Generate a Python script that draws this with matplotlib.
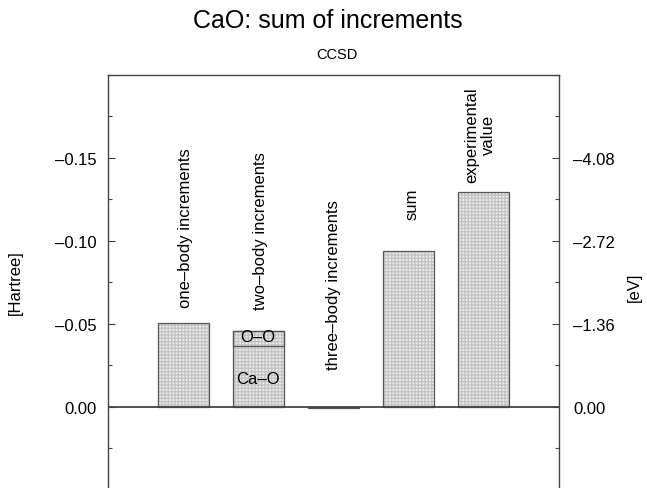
import matplotlib
matplotlib.use('Agg')
import matplotlib.pyplot as plt
from matplotlib.ticker import FixedLocator, MultipleLocator

plt.rcParams['font.family'] = ['Liberation Sans', 'DejaVu Sans']

# data (Hartree)
positions = [1, 2, 3, 4, 5]
bar_values = [-0.0504, -0.0456, 0.001, -0.0936, -0.1293]
bar_labels = ['one\u2013body increments', 'two\u2013body increments',
              'three\u2013body increments', 'sum', 'experimental\nvalue']
label_y = [-0.060, -0.059, -0.023, -0.113, -0.1355]
label_x = [1.03, 2.03, 3.0, 4.05, 4.96]

# two-body split
ca_o = -0.0366
o_o = -0.0090

hartree_ticks = [-0.15, -0.10, -0.05, 0.0]
ev_per_hartree = 27.2

fig = plt.figure(figsize=(6.47, 4.89), dpi=100)
ax = fig.add_axes([108/647, 0.0, (559-108)/647, 1 - 76/489])

ax.bar(positions, bar_values, width=0.68, color='#ededed', edgecolor='#c4c4c4',
       hatch='+++++', linewidth=0, zorder=2)
ax.bar(positions, bar_values, width=0.68, fill=False, edgecolor='#555555',
       linewidth=0.9, zorder=3)
# divider inside two-body bar
ax.bar([2], [o_o], bottom=[ca_o], width=0.68, fill=False, edgecolor='#555555',
       linewidth=0.9, zorder=3)
ax.text(2, ca_o + o_o/2 - 0.0010, 'O\u2013O', ha='center', va='center', fontsize=12, zorder=4)
ax.text(2, ca_o/2 + 0.0013, 'Ca\u2013O', ha='center', va='center', fontsize=12, zorder=4)

ax.axhline(0, color='#444444', linewidth=1.3, zorder=4)

for x, y, s in zip(label_x, label_y, bar_labels):
    ax.text(x, y, s, rotation=90, ha='center', va='bottom', fontsize=12,
            multialignment='center')

ax.set_xlim(0, 6.01)
ax.set_ylim(0.049, -0.2)
ax.set_xticks([])
ax.spines['bottom'].set_visible(False)
for s in ['left', 'right', 'top']:
    ax.spines[s].set_color('#444444')
    ax.spines[s].set_linewidth(1.0)

ax.yaxis.set_major_locator(FixedLocator(hartree_ticks))
ax.set_yticklabels([f'{t:.2f}'.replace('-', '\u2013') for t in hartree_ticks])
ax.yaxis.set_minor_locator(MultipleLocator(0.025))
ax.tick_params(axis='y', which='major', direction='in', length=5, width=0.8,
               labelsize=12, pad=8, color='#444444')
ax.tick_params(axis='y', which='minor', direction='in', length=3, width=0.8,
               color='#444444')

ax2 = ax.twinx()
ax2.set_ylim(0.049 * ev_per_hartree, -0.2 * ev_per_hartree)
ev_ticks = [round(t * ev_per_hartree, 2) for t in hartree_ticks]
ax2.yaxis.set_major_locator(FixedLocator(ev_ticks))
ax2.set_yticklabels([f'{t:.2f}'.replace('-', '\u2013') for t in ev_ticks])
ax2.yaxis.set_minor_locator(MultipleLocator(0.025 * ev_per_hartree))
ax2.tick_params(axis='y', which='major', direction='in', length=5, width=0.8,
                labelsize=12, pad=10, color='#444444')
ax2.tick_params(axis='y', which='minor', direction='in', length=3, width=0.8,
                color='#444444')
for s in ax2.spines.values():
    s.set_visible(False)

fig.text(15/647, 1 - 283/489, '[Hartree]', rotation=90, ha='center', va='center', fontsize=12)
fig.text(634/647, 1 - 287/489, '[eV]', rotation=90, ha='center', va='center', fontsize=12)

fig.text(0.507, 1 - 21/489, 'CaO: sum of increments', ha='center', va='center', fontsize=18)
fig.text(0.521, 1 - 55/489, 'CCSD', ha='center', va='center', fontsize=10.5)

fig.savefig('out.png', dpi=100)
